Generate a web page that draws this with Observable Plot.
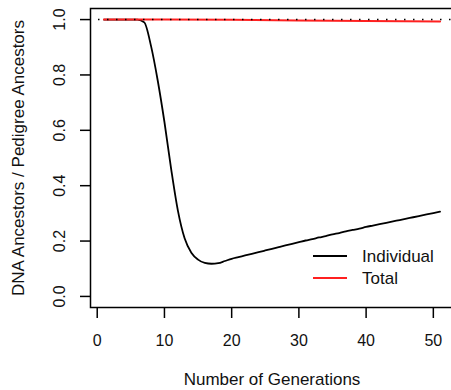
<!DOCTYPE html>
<html>
<head>
<meta charset="utf-8">
<script src="https://cdn.jsdelivr.net/npm/d3@7"></script>
<script src="https://cdn.jsdelivr.net/npm/@observablehq/plot@0.6"></script>
<style>
  html, body { margin: 0; padding: 0; background: #fff; }
  svg { display: block; }
</style>
</head>
<body>
<div id="chart"></div>
<script>
// Data
const generations = d3.range(1, 52);
const individual = [
  1.000, 1.000, 1.000, 1.000, 1.000, 1.000, 0.990, 0.905, 0.780, 0.630,
  0.460, 0.310, 0.210, 0.158, 0.133, 0.121, 0.118, 0.120, 0.128, 0.136,
  0.142, 0.148, 0.154, 0.160, 0.166, 0.172, 0.178, 0.184, 0.190, 0.196,
  0.202, 0.207, 0.213, 0.218, 0.224, 0.229, 0.235, 0.240, 0.245, 0.251,
  0.256, 0.261, 0.266, 0.271, 0.276, 0.281, 0.286, 0.291, 0.296, 0.301,
  0.306
];
const totalGens = [1, 10, 20, 30, 40, 51];
const totalVals = [1.000, 1.000, 0.999, 0.997, 0.995, 0.993];
const referenceLine = [1];
const xTicks = [0, 10, 20, 30, 40, 50];
const yTicks = [0.0, 0.2, 0.4, 0.6, 0.8, 1.0];
const xTitle = "Number of Generations";
const yTitle = "DNA Ancestors / Pedigree Ancestors";
const seriesNames = ["Individual", "Total"];
const seriesColors = ["#000000", "#ff2020"];

const indData = generations.map((g, i) => ({g, v: individual[i]}));
const totData = totalGens.map((g, i) => ({g, v: totalVals[i]}));

const FONT = "'Liberation Sans', Arial, sans-serif";

const chart = Plot.plot({
  width: 451,
  height: 390,
  marginLeft: 90,
  marginTop: 8,
  marginBottom: 83,
  marginRight: -2,
  style: {fontFamily: FONT, fontSize: "16px", color: "#111", background: "#fff"},
  x: {domain: [-1, 53], label: null},
  y: {domain: [-0.04, 1.04], label: null},
  marks: [
    Plot.line(indData, {x: "g", y: "v", stroke: seriesColors[0], strokeWidth: 1.8, curve: "monotone-x"}),
    Plot.line(totData, {x: "g", y: "v", stroke: seriesColors[1], strokeWidth: 2}),
    Plot.ruleY(referenceLine, {stroke: "#000", strokeWidth: 1.5, strokeDasharray: "1.5,7.5", strokeDashoffset: -8}),
    Plot.frame({stroke: "#000", strokeWidth: 1.5}),
    Plot.axisX({ticks: xTicks, tickSize: 11, tickFormat: () => "", label: null, stroke: "#000", strokeWidth: 1.5}),
    Plot.axisY({ticks: yTicks, tickSize: 10, tickFormat: () => "", label: null, stroke: "#000", strokeWidth: 1.5}),
    Plot.text(xTicks, {x: d => d, frameAnchor: "bottom", dy: 33, lineAnchor: "middle", text: d => String(d), fontSize: 16, fill: "#111"}),
    Plot.text(yTicks, {y: d => d, frameAnchor: "left", dx: -31, rotate: -90, lineAnchor: "middle", textAnchor: "middle", text: d => d3.format(".1f")(d), fontSize: 16, fill: "#111"}),
    Plot.text([xTitle], {frameAnchor: "bottom", dy: 72, lineAnchor: "middle", text: d => d, fontSize: 17, fill: "#111"}),
    Plot.text([yTitle], {frameAnchor: "left", dx: -72, rotate: -90, lineAnchor: "middle", textAnchor: "middle", text: d => d, fontSize: 17, fill: "#111"})
  ]
});

// Legend (inside plot area, bottom right)
const svg = d3.select(chart);
const leg = svg.append("g").attr("font-family", FONT).attr("font-size", 17).attr("fill", "#111").attr("text-anchor", "start");
seriesNames.forEach((name, i) => {
  const yy = 256 + i * 22;
  leg.append("line").attr("x1", 313).attr("x2", 347).attr("y1", yy).attr("y2", yy)
    .attr("stroke", seriesColors[i]).attr("stroke-width", 2);
  leg.append("text").attr("x", 362).attr("y", yy).attr("dy", "0.35em").attr("text-anchor", "start").text(name);
});

document.getElementById("chart").appendChild(chart);
</script>
</body>
</html>
